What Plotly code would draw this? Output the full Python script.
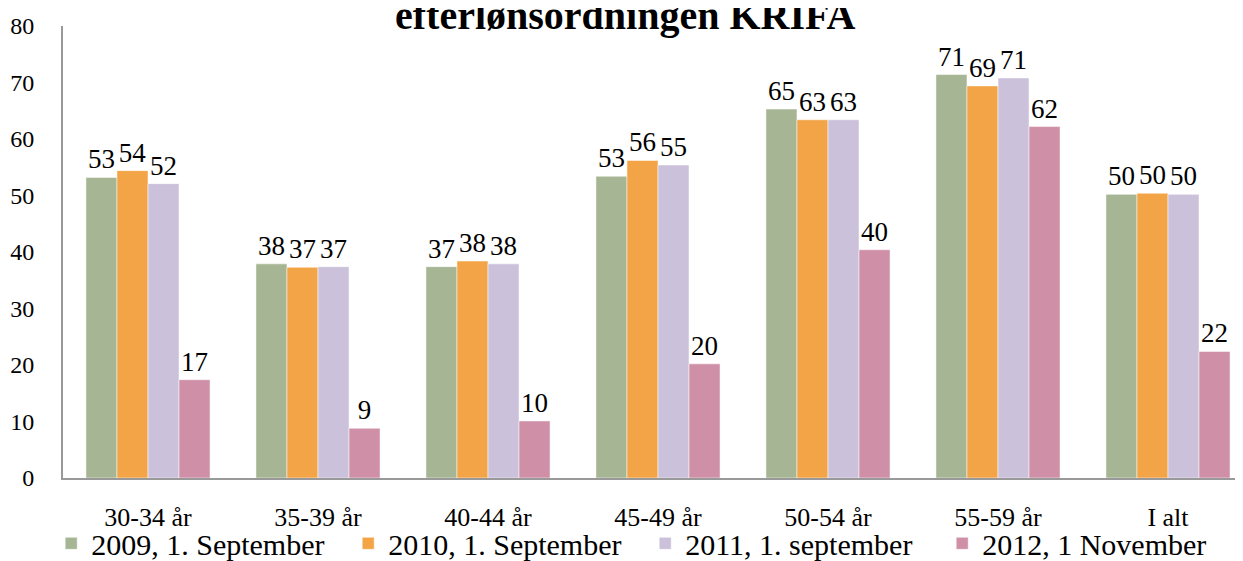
import plotly.graph_objects as go

# age groups on the x axis
groups = ["30-34 år", "35-39 år", "40-44 år", "45-49 år", "50-54 år", "55-59 år", "I alt"]

v2009 = [53.2, 37.9, 37.4, 53.4, 65.3, 71.4, 50.2]
v2010 = [54.4, 37.3, 38.4, 56.2, 63.4, 69.4, 50.4]
v2011 = [52.1, 37.4, 37.9, 55.4, 63.4, 70.8, 50.2]
v2012 = [17.4, 8.8, 10.1, 20.2, 40.4, 62.2, 22.4]

names = ["2009, 1. September", "2010, 1. September", "2011, 1. september", "2012, 1 November"]
colors = ["#A6B593", "#F2A446", "#CBC1DB", "#CF8FA6"]

FONT = "Liberation Serif"

fig = go.Figure()
for name, vals, col in zip(names, [v2009, v2010, v2011, v2012], colors):
    fig.add_trace(go.Bar(
        x=groups, y=vals, name=name,
        marker=dict(color=col, line=dict(color="white", width=0.5)),
        texttemplate="%{y:.0f}", textposition="outside",
        textfont=dict(family=FONT, size=27, color="black"),
        cliponaxis=False,
    ))

# the page body has an 8px margin, so the margins are shifted by that amount
fig.update_layout(
    width=1243, height=561,
    plot_bgcolor="white", paper_bgcolor="white",
    barmode="group", bargap=0.27, bargroupgap=0,
    margin=dict(l=55, r=8, t=18, b=91, autoexpand=False),
    font=dict(family=FONT, color="black"),
    showlegend=True,
    legend=dict(orientation="h", x=-0.01, xanchor="left", y=-0.087, yanchor="top",
                bgcolor="rgba(0,0,0,0)", entrywidth=252,
                font=dict(family=FONT, size=30), itemwidth=30,
                traceorder="normal"),
    xaxis=dict(range=[-0.5, 6.5 - 10 / 170], showline=True, linecolor="#999999",
               linewidth=2, ticks="", tickfont=dict(size=26), ticklabelstandoff=15,
               automargin=False),
    yaxis=dict(range=[0, 80], dtick=10, showgrid=False, zeroline=False, showline=True,
               linecolor="#999999", linewidth=2, ticks="", ticklabelstandoff=22,
               tickfont=dict(size=24), automargin=False),
)

fig.add_annotation(text="<b>efterlønsordningen KRIFA</b>", xref="paper", yref="paper",
                   x=0.476, y=1, yshift=11, xanchor="center", yanchor="middle",
                   showarrow=False, font=dict(family=FONT, size=40))

fig.write_html("out.html")
